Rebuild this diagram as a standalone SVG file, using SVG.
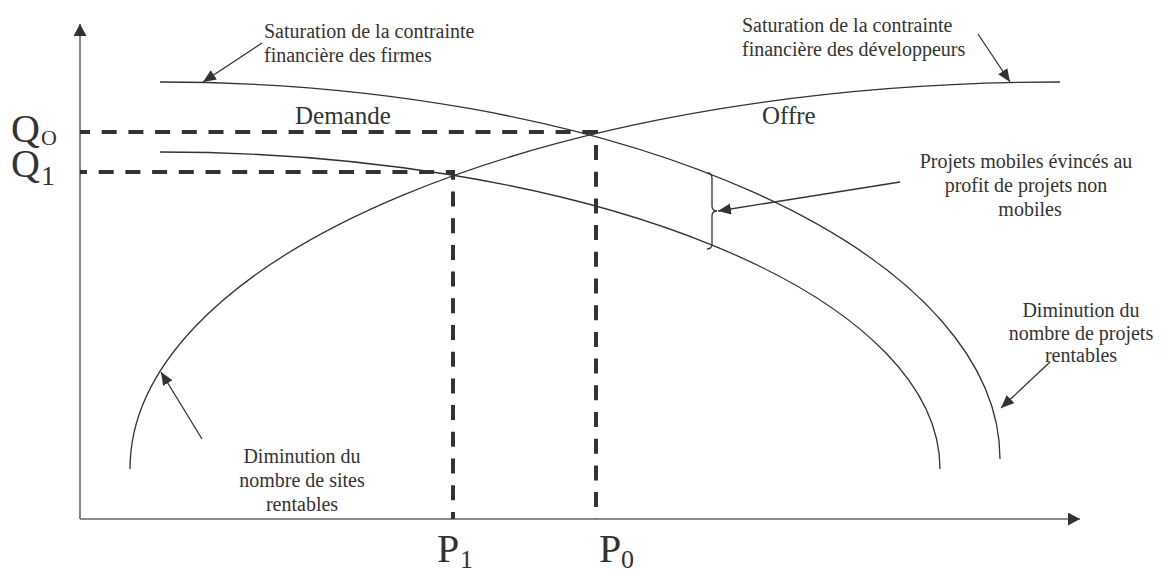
<svg xmlns="http://www.w3.org/2000/svg" width="1163" height="574" viewBox="0 0 1163 574">
<defs>
<marker id="ah" markerUnits="userSpaceOnUse" markerWidth="14" markerHeight="12" refX="13" refY="5.5" orient="auto"><path d="M0,0 L13,5.5 L0,11 z" fill="#333"/></marker>
<marker id="axh" markerUnits="userSpaceOnUse" markerWidth="14" markerHeight="14" refX="12" refY="6.5" orient="auto"><path d="M0,0 L12,6.5 L0,13 z" fill="#333"/></marker>
</defs>
<style>
.t{font-family:"Liberation Serif","Times New Roman",serif;fill:#333;font-size:20px}
.big{font-family:"Liberation Serif","Times New Roman",serif;fill:#333}
.curve{fill:none;stroke:#333;stroke-width:1.3}
.axis{fill:none;stroke:#666;stroke-width:1.6}
.dash{fill:none;stroke:#333;stroke-width:4;stroke-dasharray:15 11.7}
.arr{fill:none;stroke:#333;stroke-width:1.3;marker-end:url(#ah)}
</style>
<rect width="1163" height="574" fill="#fff"/>
<g id="axes">
<line class="axis" x1="80" y1="519" x2="80" y2="24" marker-end="url(#axh)"/>
<line class="axis" x1="80" y1="519" x2="1080" y2="519" marker-end="url(#axh)"/>
</g>
<g id="curves">
<path id="demand-outer" class="curve" d="M160,82 A840,377 0 0 1 1000,459"/>
<path id="demand-inner" class="curve" d="M160,152 A780,317 0 0 1 940,469"/>
<path id="supply" class="curve" d="M130,469 A930,387 0 0 1 1060,82"/>
</g>
<g id="guides">
<path class="dash" d="M80,132 H596 V519" stroke-dashoffset="5"/>
<path class="dash" d="M80,172 H453 V519" stroke-dashoffset="8"/>
</g>
<g id="brace">
<path class="curve" d="M707,173 Q712,173 712,178 L712,206 Q712,211 717,211 Q712,211 712,216 L712,244 Q712,249 707,249"/>
</g>
<g id="connectors">
<line class="arr" x1="262" y1="43" x2="203" y2="82"/>
<line class="arr" x1="978" y1="34" x2="1010" y2="82"/>
<line class="arr" x1="900" y1="182" x2="718" y2="211"/>
<line class="arr" x1="202" y1="439" x2="161" y2="372"/>
<line class="arr" x1="1050" y1="362" x2="1001" y2="408"/>
</g>
<g id="label-firmes">
<text class="t" x="264" y="38">Saturation de la contrainte</text>
<text class="t" x="264" y="62">financière des firmes</text>
</g>
<g id="label-developpeurs">
<text class="t" x="742" y="32">Saturation de la contrainte</text>
<text class="t" x="742" y="56">financière des développeurs</text>
</g>
<g id="label-demande"><text class="big" x="295" y="124" font-size="25">Demande</text></g>
<g id="label-offre"><text class="big" x="762" y="124" font-size="25">Offre</text></g>
<g id="label-evinces">
<text class="t" x="1026" y="168" text-anchor="middle">Projets mobiles évincés au</text>
<text class="t" x="1026" y="192" text-anchor="middle">profit de projets non</text>
<text class="t" x="1030" y="216" text-anchor="middle">mobiles</text>
</g>
<g id="label-projets-rentables">
<text class="t" x="1081" y="317" text-anchor="middle">Diminution du</text>
<text class="t" x="1081" y="340" text-anchor="middle">nombre de projets</text>
<text class="t" x="1081" y="362" text-anchor="middle">rentables</text>
</g>
<g id="label-sites-rentables">
<text class="t" x="302" y="463" text-anchor="middle">Diminution du</text>
<text class="t" x="302" y="487" text-anchor="middle">nombre de sites</text>
<text class="t" x="302" y="511" text-anchor="middle">rentables</text>
</g>
<g id="label-q0"><text class="big" x="11" y="142" font-size="40">Q</text><text class="big" x="41" y="145" font-size="22">O</text></g>
<g id="label-q1"><text class="big" x="11" y="177" font-size="40">Q</text><text class="big" x="41" y="185" font-size="28">1</text></g>
<g id="label-p1"><text class="big" x="437" y="562" font-size="40">P</text><text class="big" x="460" y="568" font-size="26">1</text></g>
<g id="label-p0"><text class="big" x="599" y="562" font-size="40">P</text><text class="big" x="621" y="568" font-size="26">0</text></g>
</svg>
